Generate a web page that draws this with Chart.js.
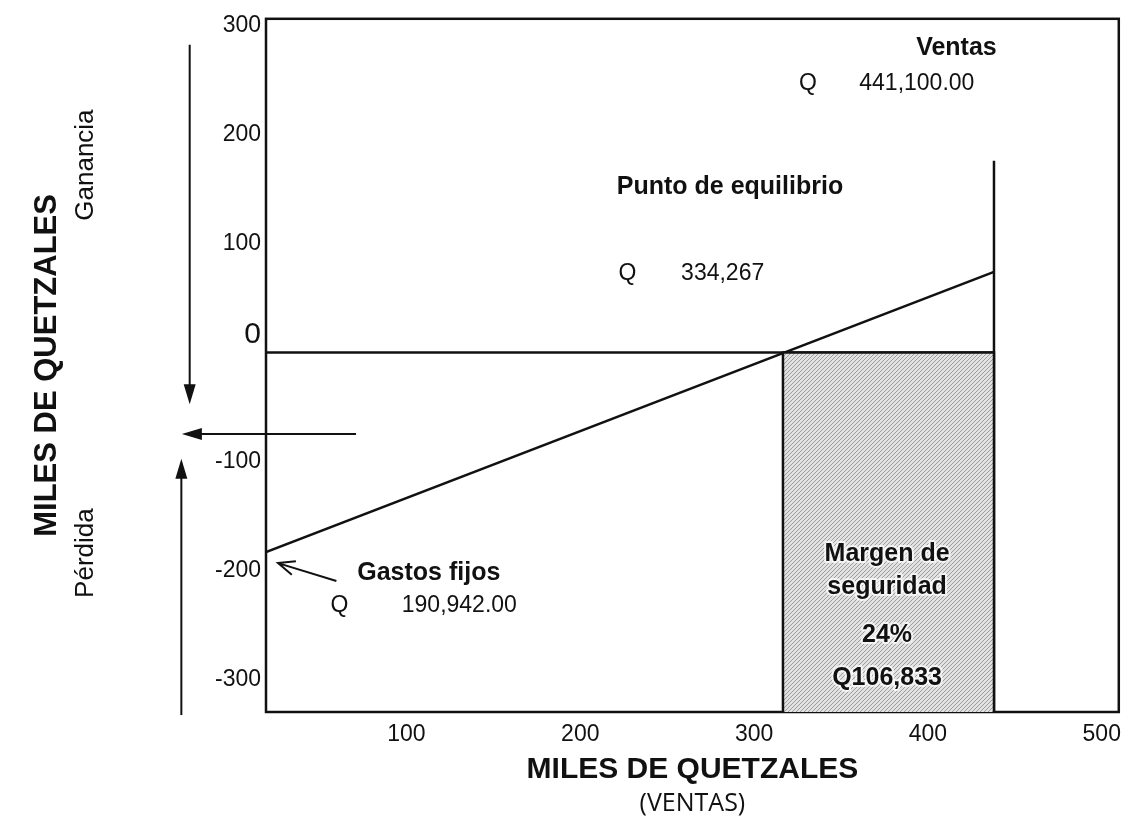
<!DOCTYPE html>
<html>
<head>
<meta charset="utf-8">
<script src="https://cdn.jsdelivr.net/npm/chart.js@4.4.1/dist/chart.umd.min.js"></script>
<style>
  body { margin: 0; background: #fff; }
  #wrap { width: 1130px; height: 832px; }
</style>
</head>
<body>
<div id="wrap"><canvas id="myChart"></canvas></div>
<script>
    // valores (miles de quetzales)
    var xTicks = [100, 200, 300, 400, 500];
    var yTicks = [300, 200, 100, 0, -100, -200, -300];
    var xMin = 19.2, xMax = 509.8, yMin = -329.8, yMax = 306.2;

    // recta de utilidad (ventas - costos)
    var utilidadX = [19.2, 438];
    var utilidadY = [-183, 74];
    // linea cero
    var ceroX = [19.2, 438];
    var ceroY = [0, 0];
    // linea de ventas
    var ventasX = [438, 438];
    var ventasY = [176, -329.8];
    // margen de seguridad (del punto de equilibrio a ventas)
    var margenX = [316.6, 316.6, 438, 438];
    var margenY = [-329.8, 0, 0, -329.8];

    function pts(xs, ys) {
        return xs.map(function (x, i) { return { x: x, y: ys[i] }; });
    }

    // patron rayado del rectangulo
    function hatch() {
        var c = document.createElement('canvas');
        c.width = 4; c.height = 4;
        var g = c.getContext('2d');
        g.fillStyle = '#e2e2e2';
        g.fillRect(0, 0, 4, 4);
        g.strokeStyle = '#9c9c9c';
        g.lineWidth = 1;
        g.beginPath();
        g.moveTo(0, 4); g.lineTo(4, 0);
        g.moveTo(-1, 1); g.lineTo(1, -1);
        g.moveTo(3, 5); g.lineTo(5, 3);
        g.stroke();
        return g.createPattern(c, 'repeat');
    }

    // textos en unidades de datos
    var textos = [
        { t: 'Ventas', x: 416.4, y: 279.7, b: true, s: 25, a: 'center' },
        { t: 'Q', x: 331, y: 247, s: 23, a: 'center' },
        { t: '441,100.00', x: 360.5, y: 247, s: 23, a: 'left' },
        { t: 'Punto de equilibrio', x: 221, y: 152, b: true, s: 25, a: 'left' },
        { t: 'Q', x: 227.2, y: 72, s: 23, a: 'center' },
        { t: '334,267', x: 258, y: 72, s: 23, a: 'left' },
        { t: 'Gastos fijos', x: 71.7, y: -202, b: true, s: 25, a: 'left' },
        { t: 'Q', x: 61.4, y: -232.3, s: 23, a: 'center' },
        { t: '190,942.00', x: 97.3, y: -232.3, s: 23, a: 'left' },
        { t: 'Margen de', x: 376.5, y: -185, b: true, s: 25, a: 'center', halo: true },
        { t: 'seguridad', x: 376.5, y: -215, b: true, s: 25, a: 'center', halo: true },
        { t: '24%', x: 376.5, y: -258.8, b: true, s: 25, a: 'center', halo: true },
        { t: 'Q106,833', x: 376.5, y: -298.9, b: true, s: 25, a: 'center', halo: true },
        { t: 'Ganancia', x: -84.5, y: 172, s: 26, a: 'center', rot: true },
        { t: 'Pérdida', x: -84.5, y: -184, s: 26, a: 'center', rot: true }
    ];
    // flechas: [x1, y1, x2, y2, tipo]
    var flechas = [
        [-24.7, 282.5, -24.7, -47.4, 'solid'],
        [71, -74.7, -29.2, -74.7, 'solid'],
        [-29.5, -332.6, -29.5, -97.5, 'solid'],
        [59.7, -209.6, 26.1, -193.2, 'open']
    ];

    var anotaciones = {
        id: 'anotaciones',
        beforeDatasetsDraw: function (chart) {
            var a = chart.chartArea, ctx = chart.ctx;
            ctx.save();
            ctx.strokeStyle = '#111';
            ctx.lineWidth = 2.5;
            ctx.strokeRect(a.left, a.top, a.right - a.left, a.bottom - a.top);
            ctx.restore();
        },
        afterDatasetsDraw: function (chart) {
            var ctx = chart.ctx, sx = chart.scales.x, sy = chart.scales.y;
            ctx.save();
            ctx.fillStyle = '#111';
            ctx.strokeStyle = '#111';
            flechas.forEach(function (f) {
                var x1 = sx.getPixelForValue(f[0]), y1 = sy.getPixelForValue(f[1]);
                var x2 = sx.getPixelForValue(f[2]), y2 = sy.getPixelForValue(f[3]);
                var ang = Math.atan2(y2 - y1, x2 - x1);
                ctx.lineWidth = 2;
                ctx.beginPath();
                if (f[4] == 'solid') {
                    ctx.moveTo(x1, y1);
                    ctx.lineTo(x2 - 16 * Math.cos(ang), y2 - 16 * Math.sin(ang));
                    ctx.stroke();
                    ctx.beginPath();
                    ctx.moveTo(x2, y2);
                    ctx.lineTo(x2 - 20 * Math.cos(ang) + 6 * Math.sin(ang), y2 - 20 * Math.sin(ang) - 6 * Math.cos(ang));
                    ctx.lineTo(x2 - 20 * Math.cos(ang) - 6 * Math.sin(ang), y2 - 20 * Math.sin(ang) + 6 * Math.cos(ang));
                    ctx.closePath();
                    ctx.fill();
                } else {
                    ctx.moveTo(x1, y1);
                    ctx.lineTo(x2, y2);
                    ctx.moveTo(x2 + 18 * Math.cos(ang + Math.PI - 0.4), y2 + 18 * Math.sin(ang + Math.PI - 0.4));
                    ctx.lineTo(x2, y2);
                    ctx.lineTo(x2 + 18 * Math.cos(ang + Math.PI + 0.4), y2 + 18 * Math.sin(ang + Math.PI + 0.4));
                    ctx.stroke();
                }
            });
            ctx.textBaseline = 'middle';
            textos.forEach(function (o) {
                var px = sx.getPixelForValue(o.x), py = sy.getPixelForValue(o.y);
                ctx.font = (o.b ? 'bold ' : '') + o.s + 'px "Liberation Sans", Arial, sans-serif';
                ctx.textAlign = o.a;
                ctx.save();
                ctx.translate(px, py);
                if (o.rot) ctx.rotate(-Math.PI / 2);
                if (o.halo) {
                    ctx.strokeStyle = 'rgba(255,255,255,0.75)';
                    ctx.lineWidth = 4;
                    ctx.lineJoin = 'round';
                    ctx.strokeText(o.t, 0, 0);
                }
                ctx.fillStyle = '#111';
                ctx.fillText(o.t, 0, 0);
                ctx.restore();
            });
            // subtitulo del eje x
            ctx.font = '25px "Open Sans", sans-serif';
            ctx.textAlign = 'center';
            ctx.fillText('(VENTAS)', (sx.left + sx.right) / 2, 804);
            ctx.restore();
        }
    };

    var lineaBase = { showLine: true, pointRadius: 0, borderColor: '#111', borderWidth: 2.5, fill: false };

    var ctx = document.getElementById('myChart').getContext('2d');
    var myChart = new Chart(ctx, {
        type: 'scatter',
        data: {
            datasets: [
                Object.assign({}, lineaBase, { label: 'Margen de seguridad', data: pts(margenX, margenY), fill: 'start', backgroundColor: hatch(), borderWidth: 2.5 }),
                Object.assign({}, lineaBase, { label: 'Cero', data: pts(ceroX, ceroY) }),
                Object.assign({}, lineaBase, { label: 'Ventas', data: pts(ventasX, ventasY) }),
                Object.assign({}, lineaBase, { label: 'Utilidad', data: pts(utilidadX, utilidadY) })
            ]
        },
        plugins: [anotaciones],
        options: {
            responsive: true,
            maintainAspectRatio: false,
            animation: false,
            layout: { padding: { left: 0, right: 3, top: 14, bottom: 0 } },
            plugins: { legend: { display: false }, tooltip: { enabled: false } },
            scales: {
                x: {
                    type: 'linear', min: xMin, max: xMax,
                    grid: { display: false, drawTicks: false },
                    border: { display: false },
                    afterBuildTicks: function (s) { s.ticks = xTicks.map(function (v) { return { value: v }; }); },
                    afterFit: function (s) { s.height = 120; },
                    ticks: { color: '#111', padding: 9, maxRotation: 0, font: { family: '"Liberation Sans", Arial', size: 23 } },
                    title: {
                        display: true, text: 'MILES DE QUETZALES', color: '#111',
                        font: { family: '"Liberation Sans", Arial', size: 30, weight: 'bold' },
                        padding: { top: 0, bottom: 44 }
                    }
                },
                y: {
                    type: 'linear', min: yMin, max: yMax,
                    grid: { display: false, drawTicks: false },
                    border: { display: false },
                    afterBuildTicks: function (s) { s.ticks = yTicks.map(function (v) { return { value: v }; }); },
                    afterFit: function (s) { s.width = 266; },
                    ticks: {
                        color: '#111', padding: 5,
                        // el 0 va un poco arriba de su linea
                        callback: function (v) { return v === 0 ? ['0', ''] : v; },
                        font: function (c) {
                            return { family: '"Liberation Sans", Arial', size: (c.tick && c.tick.value === 0) ? 30 : 23 };
                        }
                    },
                    title: {
                        display: true, text: 'MILES DE QUETZALES', color: '#111',
                        font: { family: '"Liberation Sans", Arial', size: 31, weight: 'bold' },
                        padding: { top: 29, bottom: 0 }
                    }
                }
            }
        }
    });
</script>
</body>
</html>
